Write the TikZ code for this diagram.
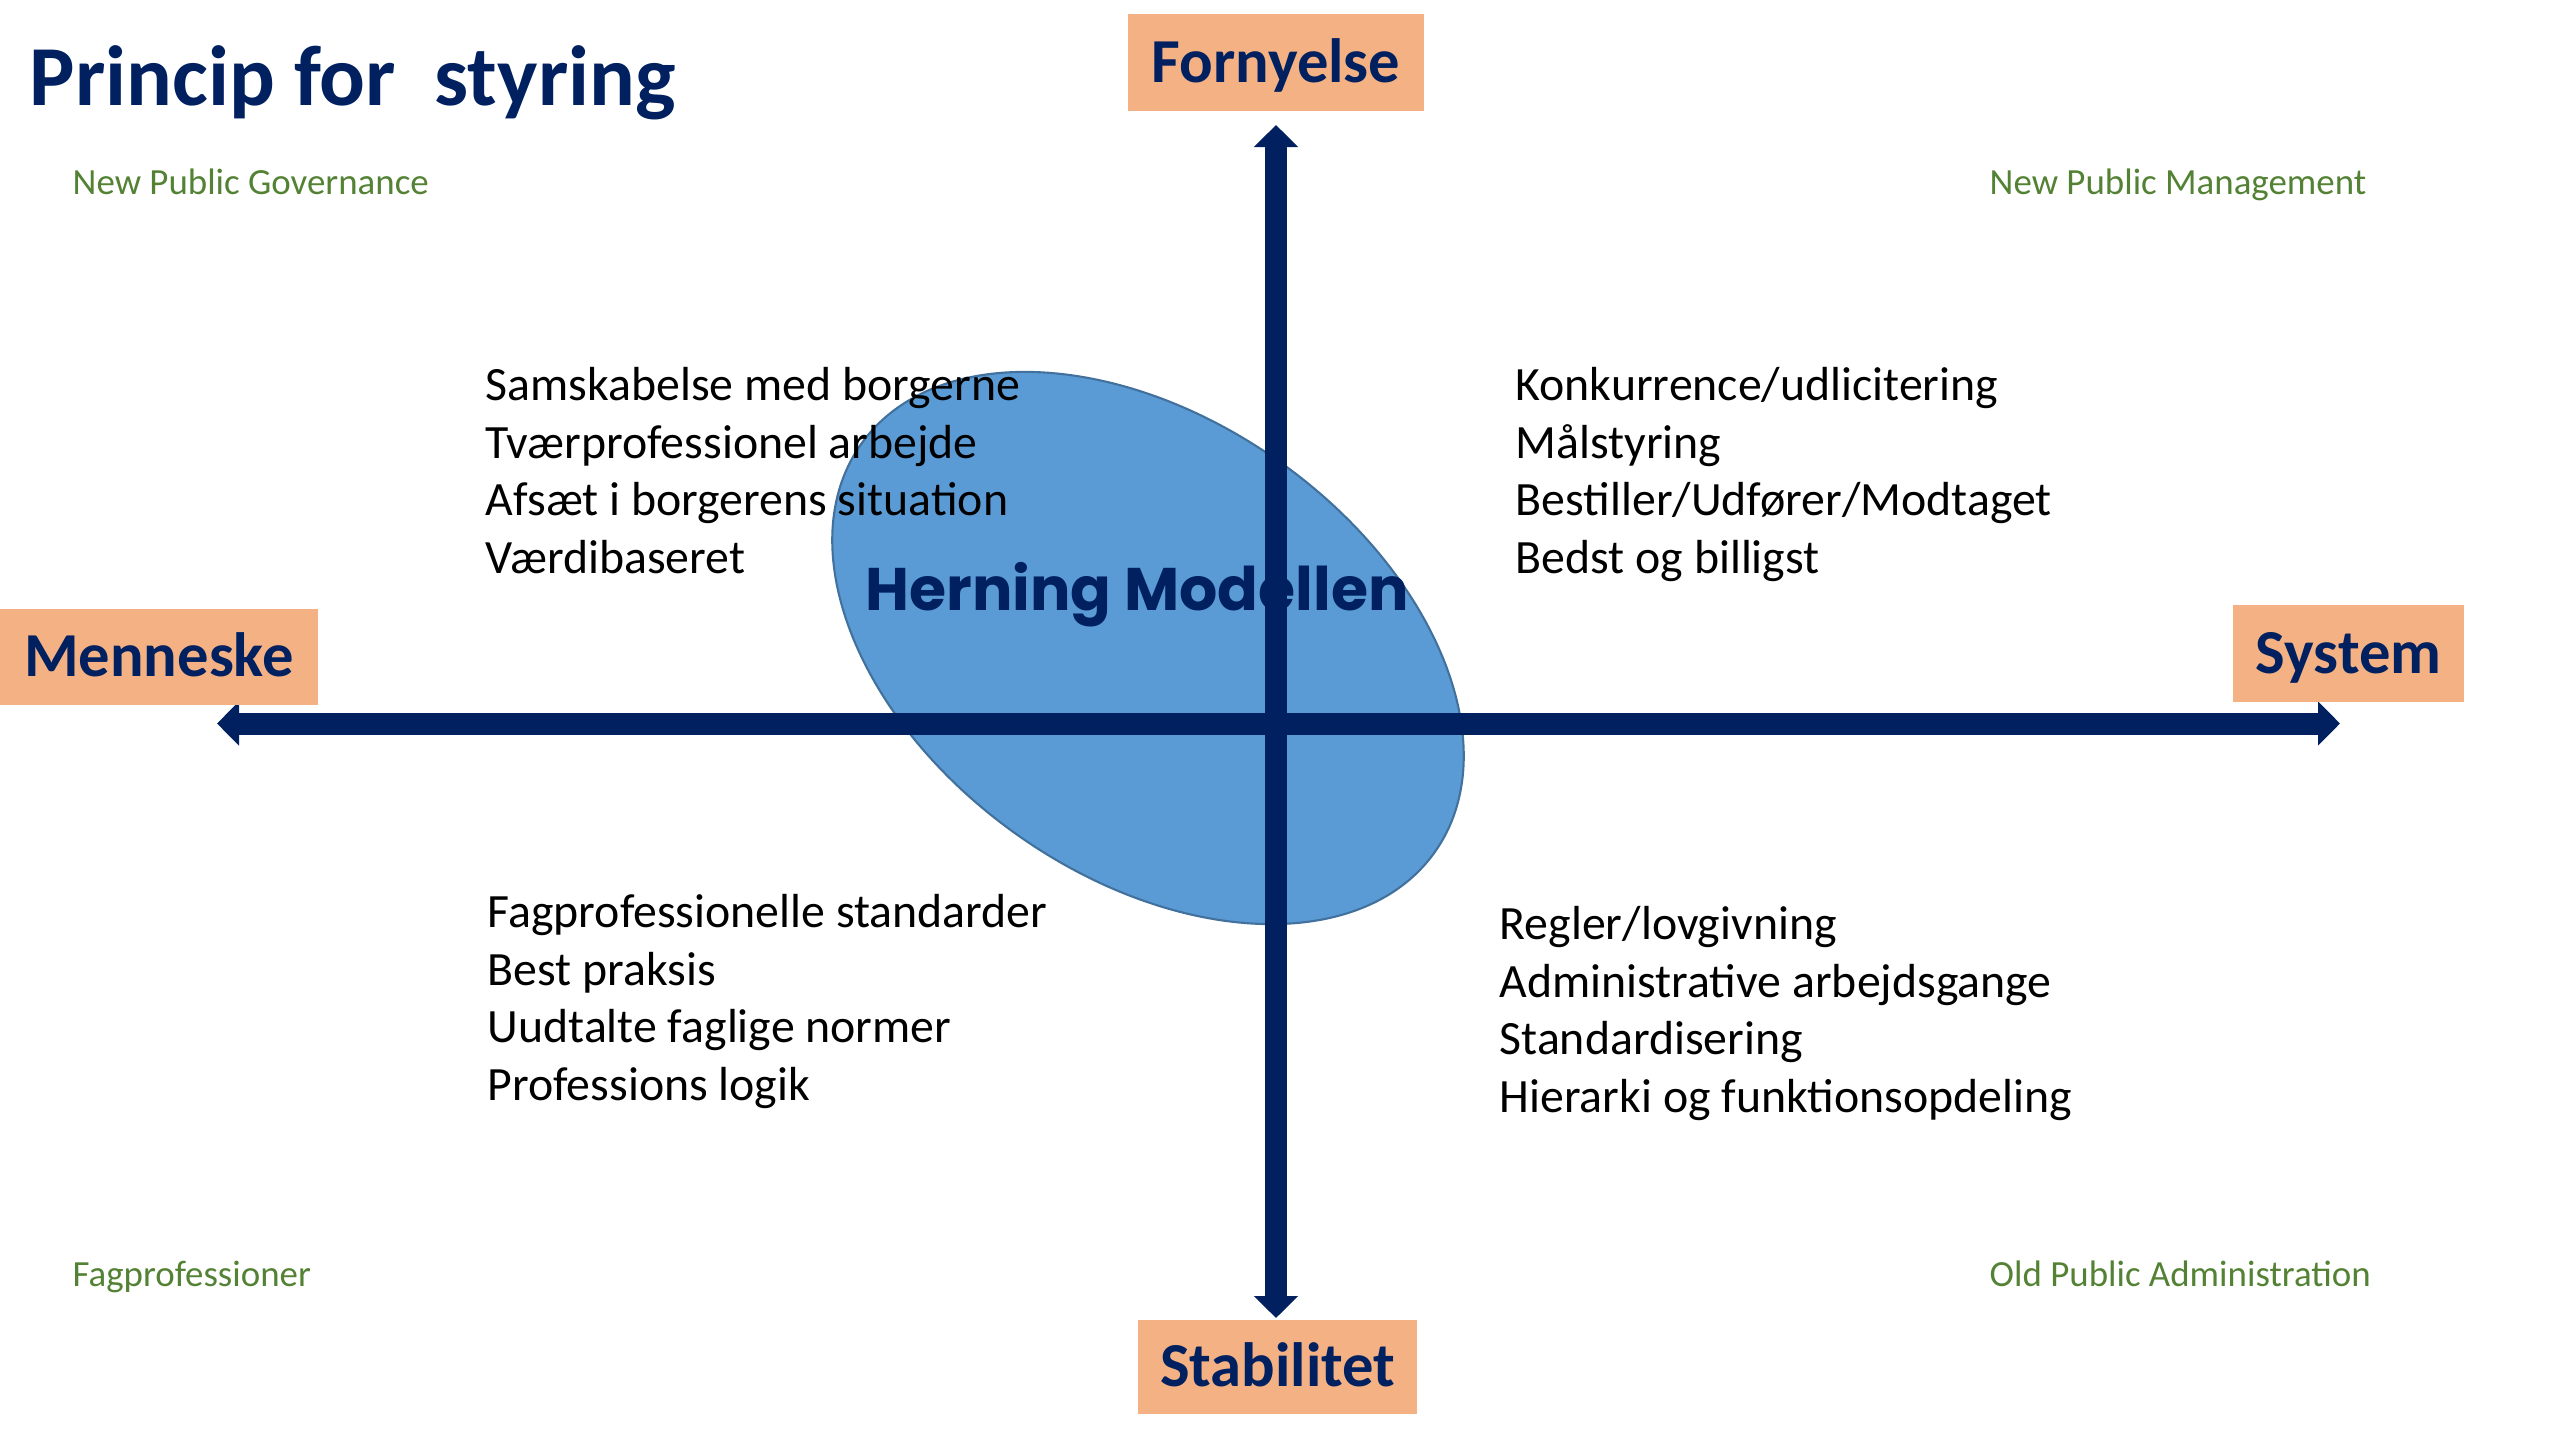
\documentclass[tikz,border=0pt]{standalone}
\usepackage{fontspec}
\setmainfont{Carlito}
\newfontfamily\geofont{Poppins}
\usetikzlibrary{arrows.meta, positioning, shapes.geometric}

\definecolor{navy}{HTML}{002060}
\definecolor{peach}{HTML}{F4B183}
\definecolor{leaf}{HTML}{548235}
\definecolor{sky}{HTML}{5B9BD5}
\definecolor{steel}{HTML}{41719C}

\begin{document}
\begin{tikzpicture}[
	pole/.style={rectangle, fill=peach, text=navy, inner sep=0pt, text height=0.39cm, text depth=0pt, font=\fontsize{17.8}{21}\selectfont\bfseries},
	regime/.style={anchor=mid west, inner sep=0pt, text=leaf, font=\fontsize{10.5}{12.6}\selectfont},
	trait/.style={anchor=north west, inner sep=0pt, align=left, font=\fontsize{13.6}{16.36}\selectfont},
	axis/.style={draw=navy, line width=0.22cm, {Triangle[width=0.43cm,length=0.22cm]}-{Triangle[width=0.43cm,length=0.22cm]}}]
	\useasboundingbox (0,0) rectangle (25.6,-14.4);

	\node[anchor=base west, inner sep=0pt, text=navy, font=\fontsize{24.3}{29}\selectfont\bfseries] (title) at (0.29,-1.05) {Princip for\ \ styring};

	\node[regime] (npg) at (0.72,-1.86) {New Public Governance};
	\node[regime] (npm) at (19.89,-1.86) {New Public Management};
	\node[regime] (fag) at (0.72,-12.78) {Fagprofessioner};
	\node[regime] (opa) at (19.89,-12.78) {Old Public Administration};

	\node[ellipse, draw=steel, fill=sky, line width=0.6pt, inner sep=0pt, minimum width=7.04cm, minimum height=4.56cm, rotate=-35.5] (model) at (11.48,-6.48) {};
	\node[anchor=base, inner sep=0pt, text=navy, font=\geofont\bfseries\fontsize{17.1}{20}\selectfont] (herning) at (11.37,-6.10) {Herning Modellen};

	\node[trait] (ul) at (4.85,-3.67) {Samskabelse med borgerne\\Tværprofessionel arbejde\\Afsæt i borgerens situation\\Værdibaseret};
	\node[trait] (ur) at (15.15,-3.67) {Konkurrence/udlicitering\\Målstyring\\Bestiller/Udfører/Modtaget\\Bedst og billigst};
	\node[trait] (ll) at (4.87,-8.94) {Fagprofessionelle standarder\\Best praksis\\Uudtalte faglige normer\\Professions logik};
	\node[trait] (lr) at (14.99,-9.06) {Regler/lovgivning\\Administrative arbejdsgange\\Standardisering\\Hierarki og funktionsopdeling};

	\coordinate (west) at (2.17,-7.235);
	\coordinate (east) at (23.40,-7.235);
	\coordinate (north) at (12.76,-1.25);
	\coordinate (south) at (12.76,-13.18);
	\draw[axis] (west) -- (east);
	\draw[axis] (south) -- (north);

	\node[pole, minimum width=2.96cm, minimum height=0.97cm] (fornyelse) at (12.76,-0.625) {Fornyelse};
	\node[pole, minimum width=3.18cm, minimum height=0.96cm] (menneske) at (1.59,-6.57) {Menneske};
	\node[pole, minimum width=2.31cm, minimum height=0.97cm] (system) at (23.485,-6.535) {System};
	\node[pole, minimum width=2.79cm, minimum height=0.94cm] (stabilitet) at (12.775,-13.67) {Stabilitet};
\end{tikzpicture}
\end{document}
